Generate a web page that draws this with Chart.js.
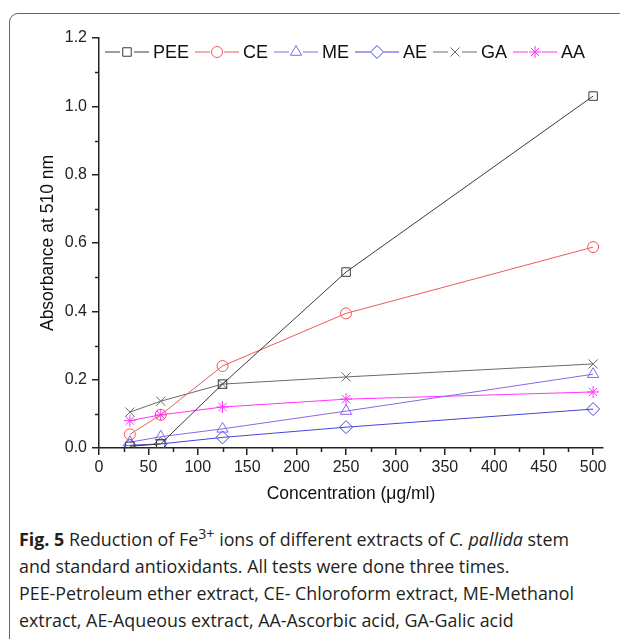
<!DOCTYPE html>
<html>
<head>
<meta charset="utf-8">
<script src="https://cdn.jsdelivr.net/npm/chart.js"></script>
<style>
  html, body { margin: 0; padding: 0; background: #fff; }
  #page { position: relative; width: 629px; height: 639px; overflow: hidden; }
  #clip { position: absolute; left: 0; top: 0; width: 620px; height: 639px; overflow: hidden; }
  #frame { position: absolute; left: 9px; top: 13px; width: 700px; height: 700px;
           border: 1.5px solid #666; border-radius: 9px; box-sizing: border-box; }
  #chart { position: absolute; left: 0; top: 0; }
  #caption { position: absolute; left: 19px; top: 526px; font-family: "Open Sans", sans-serif;
             font-size: 18px; line-height: 27px; color: #231f20; transform-origin: 0 0; }
  #caption .ln { white-space: nowrap; }
  #caption sup { font-size: 0.8em; line-height: 0; vertical-align: 0; position: relative; top: -0.5em; }
</style>
</head>
<body>
<div id="page">
  <div id="clip"><div id="frame"></div></div>
  <canvas id="chart" width="629" height="510"></canvas>
  <div id="caption">
    <div class="ln" id="ln1"><b>Fig. 5</b> Reduction of Fe<sup>3+</sup> ions of different extracts of <i>C. pallida</i> stem</div>
    <div class="ln">and standard antioxidants. All tests were done three times.</div>
    <div class="ln">PEE-Petroleum ether extract, CE- Chloroform extract, ME-Methanol</div>
    <div class="ln">extract, AE-Aqueous extract, AA-Ascorbic acid, GA-Galic acid</div>
  </div>
</div>
<script>
// 数据
const concentrations = [31.25, 62.5, 125, 250, 500];
const seriesNames = ['PEE', 'CE', 'ME', 'AE', 'GA', 'AA'];
const pee = [0.005, 0.012, 0.187, 0.515, 1.03];
const ce = [0.04, 0.097, 0.24, 0.394, 0.588];
const me = [0.017, 0.033, 0.056, 0.108, 0.216];
const ae = [0.008, 0.012, 0.031, 0.061, 0.114];
const ga = [0.105, 0.137, 0.187, 0.208, 0.246];
const aa = [0.08, 0.097, 0.12, 0.143, 0.164];
const yTicks = [0, 0.2, 0.4, 0.6, 0.8, 1.0, 1.2];
const xTicks = [0, 50, 100, 150, 200, 250, 300, 350, 400, 450, 500];

const colors = ['#3a3a3a', '#ee5a5a', '#8a66e6', '#4444dd', '#6a6a6a', '#ff33ff'];
const styles = ['rect', 'circle', 'triangle', 'rectRot', 'crossRot', 'star'];
const radii = [6, 5.5, 6.5, 6.5, 6.5, 6];

const FONT = '"Liberation Sans", Arial, sans-serif';

function toPoints(vals) {
    return concentrations.map((c, i) => ({ x: c, y: vals[i] }));
}

const allSeries = [pee, ce, me, ae, ga, aa];

// 图例和小刻度
const extras = {
    id: 'extras',
    afterDraw(chart) {
        const ctx = chart.ctx;
        const xs = chart.scales.x, ys = chart.scales.y;
        ctx.save();
        ctx.strokeStyle = '#222';
        ctx.lineWidth = 1.5;
        // minor ticks
        for (let v = 0.1; v < 1.2; v += 0.2) {
            const py = Math.round(ys.getPixelForValue(v)) + 0.5;
            ctx.beginPath();
            ctx.moveTo(xs.left, py);
            ctx.lineTo(xs.left - 4, py);
            ctx.stroke();
        }
        for (let v = 25; v < 510; v += 50) {
            const px = Math.round(xs.getPixelForValue(v)) + 0.5;
            ctx.beginPath();
            ctx.moveTo(px, ys.bottom);
            ctx.lineTo(px, ys.bottom + 4);
            ctx.stroke();
        }
        // legend
        ctx.font = '18px ' + FONT;
        ctx.textBaseline = 'middle';
        let x = 105;
        const y = 52;
        chart.data.datasets.forEach((ds, i) => {
            ctx.strokeStyle = ds.borderColor;
            ctx.lineWidth = 1;
            ctx.beginPath();
            ctx.moveTo(x, y);
            ctx.lineTo(x + 15, y);
            ctx.moveTo(x + 29, y);
            ctx.lineTo(x + 44, y);
            ctx.stroke();
            ctx.fillStyle = 'rgba(0,0,0,0)';
            Chart.helpers.drawPoint(ctx, {
                pointStyle: ds.pointStyle, radius: ds.pointRadius,
                borderWidth: 1, rotation: 0
            }, x + 22, y);
            ctx.fillStyle = '#111';
            ctx.fillText(ds.label, x + 48, y + 1);
            x += 48 + ctx.measureText(ds.label).width + 6;
        });
        ctx.restore();
    }
};

new Chart(document.getElementById('chart'), {
    type: 'line',
    data: {
        datasets: seriesNames.map((name, i) => ({
            label: name,
            data: toPoints(allSeries[i]),
            borderColor: colors[i],
            backgroundColor: 'rgba(0,0,0,0)',
            borderWidth: 1,
            pointStyle: styles[i],
            pointRadius: radii[i],
            pointBorderWidth: 1,
            pointBorderColor: colors[i],
            pointBackgroundColor: 'rgba(0,0,0,0)',
            tension: 0
        }))
    },
    options: {
        responsive: false,
        animation: false,
        layout: { padding: { left: 0, top: 38, right: 26, bottom: 0 } },
        plugins: { legend: { display: false }, tooltip: { enabled: false } },
        scales: {
            x: {
                type: 'linear',
                min: 0, max: 510,
                afterBuildTicks: s => { s.ticks = xTicks.map(v => ({ value: v })); },
                afterFit: s => { s.height = 62; },
                border: { display: true, color: '#222', width: 1.5 },
                grid: { display: true, drawOnChartArea: false, drawTicks: true, tickLength: 7, color: '#222', lineWidth: 1.5 },
                ticks: { color: '#222', padding: 3, maxRotation: 0, font: { family: FONT, size: 16 } },
                title: { display: true, text: 'Concentration (μg/ml)', color: '#111',
                         font: { family: FONT, size: 17.5 }, padding: { top: 0, bottom: 5 } }
            },
            y: {
                min: 0, max: 1.2,
                afterBuildTicks: s => { s.ticks = yTicks.map(v => ({ value: v })); },
                afterFit: s => { s.width = 99; },
                border: { display: true, color: '#222', width: 1.5 },
                grid: { display: true, drawOnChartArea: false, drawTicks: true, tickLength: 7, color: '#222', lineWidth: 1.5 },
                ticks: { color: '#222', padding: 5, font: { family: FONT, size: 16 },
                         callback: v => v.toFixed(1) },
                title: { display: true, text: 'Absorbance at 510 nm', color: '#111',
                         font: { family: FONT, size: 17.5 }, padding: { top: 38, bottom: 0 } }
            }
        }
    },
    plugins: [extras]
});

// 调整图注宽度
const cap = document.getElementById('caption');
const w1 = document.getElementById('ln1').getBoundingClientRect().width;
cap.style.transform = 'scaleX(' + (555 / w1) + ')';
</script>
</body>
</html>
